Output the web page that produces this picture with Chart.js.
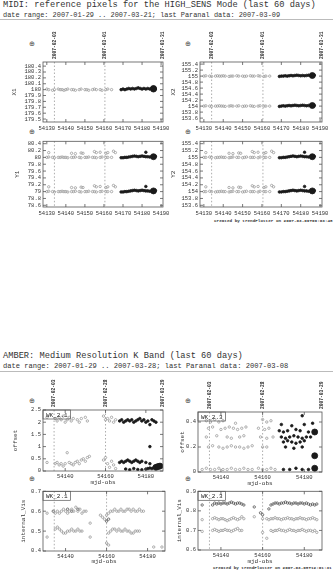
<!DOCTYPE html>
<html>
<head>
<meta charset="utf-8">
<title>MIDI / AMBER trend plots</title>
<script src="https://cdn.jsdelivr.net/npm/chart.js@4.4.1/dist/chart.umd.min.js"></script>
<style>
    body { margin: 0; width: 333px; height: 575px; position: relative; background: #fff; overflow: hidden;
           font-family: "Liberation Mono", "DejaVu Sans Mono", monospace; color: #333; }
    .txt { position: absolute; white-space: nowrap; line-height: 1; }
    .sym { font-family: "DejaVu Sans", sans-serif; font-size: 7px; color: #444; }
    .rule { position: absolute; left: 0; width: 333px; height: 0; border-top: 1px solid #bbb; }
    canvas { position: absolute; }
</style>
</head>
<body>
<div class="txt" style="left:3px;top:1px;font-size:8.7px">MIDI: reference pixels for the HIGH_SENS Mode (last 60 days)</div>
<div class="txt" style="left:3px;top:12px;font-size:6.9px">date range: 2007-01-29 .. 2007-03-21; last Paranal data: 2007-03-09</div>
<div class="rule" style="top:19px"></div>
<div class="txt sym" style="left:29px;top:41px">⊕</div>
<div class="txt sym" style="left:185px;top:41px">⊕</div>
<div class="txt sym" style="left:29px;top:129px">⊕</div>
<div class="txt sym" style="left:185px;top:129px">⊕</div>
<div class="txt" style="left:214px;top:219px;font-size:4.3px;font-weight:bold">created by trendPlotter on 2007-03-09T09:03:48</div>

<div class="txt" style="left:3px;top:352px;font-size:8.7px">AMBER: Medium Resolution K Band (last 60 days)</div>
<div class="txt" style="left:3px;top:363px;font-size:7.1px">date range: 2007-01-29 .. 2007-03-28; last Paranal data: 2007-03-08</div>
<div class="rule" style="top:371px"></div>
<div class="txt sym" style="left:29px;top:398px">⊕</div>
<div class="txt sym" style="left:185px;top:398px">⊕</div>
<div class="txt sym" style="left:29px;top:476px">⊕</div>
<div class="txt sym" style="left:185px;top:476px">⊕</div>
<div class="txt" style="left:213px;top:566px;font-size:4.3px;font-weight:bold">created by trendPlotter on 2007-03-08T12:01:31</div>

<canvas id="midiX1" width="173" height="114" style="left:0;top:20px"></canvas>
<canvas id="midiX2" width="167" height="114" style="left:166px;top:20px"></canvas>
<canvas id="midiY1" width="173" height="82" style="left:0;top:136px"></canvas>
<canvas id="midiY2" width="167" height="82" style="left:166px;top:136px"></canvas>
<canvas id="amberOff21" width="173" height="112" style="left:0;top:376px"></canvas>
<canvas id="amberOff23" width="167" height="112" style="left:166px;top:376px"></canvas>
<canvas id="amberVis21" width="173" height="80" style="left:0;top:486px"></canvas>
<canvas id="amberVis23" width="167" height="80" style="left:166px;top:486px"></canvas>

<script>
// ---- MIDI data ----
const midiTicksX = [54130, 54140, 54150, 54160, 54170, 54180, 54190];
const midiDateMarks = [54134, 54160.5, 54191];
const midiDateText = ['2007-02-03', '2007-03-01', '2007-03-31'];
const x1Ticks = [179.5, 179.6, 179.7, 179.8, 179.9, 180, 180.1, 180.2, 180.3, 180.4];
const x2Ticks = [153.6, 153.8, 154, 154.2, 154.4, 154.6, 154.8, 155, 155.2, 155.4];
const y1Ticks = [78.6, 78.8, 79, 79.2, 79.4, 79.6, 79.8, 80, 80.2, 80.4];
const y2Ticks = [153.6, 153.8, 154, 154.2, 154.4, 154.6, 154.8, 155, 155.2, 155.4];

const midiOldMjd = [54130, 54131, 54133, 54134, 54136, 54137, 54138, 54139, 54140, 54141, 54143, 54144, 54145,
                    54147, 54148, 54150, 54151, 54152, 54154, 54155, 54156, 54158, 54159, 54161, 54162, 54164];
const midiNewMjd = [54169, 54170, 54171, 54172, 54173, 54174, 54175, 54176, 54177, 54178, 54179, 54180, 54181,
                    54182, 54183, 54184, 54185, 54187];
const midiOutMjd = [54131, 54143, 54145, 54148, 54149, 54155, 54156, 54158, 54161, 54162, 54165, 54166];
const midiOutNewMjd = [54182, 54182];
const midiLastMjd = [54186, 54186];

const x1Old = [180.01, 180, 179.99, 180, 180.01, 180, 180, 179.99, 180, 180.01, 180, 180, 179.99,
               180, 180.01, 180, 180, 179.99, 180, 180.01, 180, 180, 179.99, 180, 180.01, 180];
const x1New = [180, 180.01, 180, 180.01, 180.02, 180.01, 180.02, 180.01, 180.02, 180.03, 180.02, 180.01, 180.02,
               180.01, 180.02, 180.01, 180.02, 180.01];
const x1Last = [180.02, 180.01];

const x2HiOld = [155, 155.01, 155, 154.99, 155, 155.01, 155, 155, 155.01, 155, 154.99, 155, 155,
                 155.01, 155, 155, 154.99, 155, 155.01, 155, 155, 155.01, 155, 154.99, 155, 155];
const x2LoOld = [154, 154.01, 154, 153.99, 154, 154, 154.01, 154, 154, 153.99, 154, 154.01, 154,
                 154, 154.01, 153.99, 154, 154, 154.01, 154, 153.99, 154, 154.01, 154, 154, 154];
const x2HiNew = [154.99, 155, 155, 155.01, 155, 155.01, 155.02, 155.01, 155.02, 155.03, 155.02, 155.01, 155.02,
                 155.01, 155.02, 155.03, 155.02, 155.03];
const x2LoNew = [153.99, 154, 154.01, 154, 154.01, 154.02, 154.01, 154.02, 154.03, 154.02, 154.01, 154.02, 154.03,
                 154.02, 154.01, 154.02, 154.03, 154.02];
const x2Last = [155.02, 154.02];

const y1HiOld = [80, 80.01, 80, 79.99, 80, 80, 80.01, 80, 80, 79.99, 80, 80, 80.01,
                 80, 79.99, 80, 80, 80.01, 80, 80, 79.99, 80, 80.01, 80, 80, 80];
const y1LoOld = [79, 79.01, 79, 78.99, 79, 79, 79.01, 79, 79, 78.99, 79, 79, 79.01,
                 79, 78.99, 79, 79, 79.01, 79, 79, 78.99, 79, 79.01, 79, 79, 79];
const y1HiNew = [79.99, 79.99, 80, 80, 80.01, 80.02, 80.03, 80.04, 80.03, 80.02, 80.03, 80.04, 80.03,
                 80.02, 80.02, 80.01, 80.02, 80.03];
const y1LoNew = [78.99, 78.99, 79, 79, 79.01, 79.02, 79.03, 79.04, 79.03, 79.02, 79.03, 79.04, 79.03,
                 79.02, 79.02, 79.01, 79.02, 79.03];
const y1HiOut = [80.14, 80.12, 80.11, 80.13, 80.12, 80.17, 80.14, 80.15, 80.12, 80.14, 80.18, 80.14];
const y1LoOut = [79.14, 79.12, 79.11, 79.13, 79.12, 79.17, 79.14, 79.15, 79.12, 79.14, 79.18, 79.14];
const y1OutNew = [80.15, 79.15];
const y1Last = [80.02, 79.02];

const y2HiOld = [155, 155, 155.01, 155, 154.99, 155, 155, 155.01, 155, 155, 154.99, 155, 155.01,
                 155, 155, 154.99, 155, 155.01, 155, 155, 155, 154.99, 155.01, 155, 155, 155];
const y2LoOld = [154, 154, 154.01, 154, 153.99, 154, 154, 154.01, 154, 154, 153.99, 154, 154.01,
                 154, 154, 153.99, 154, 154.01, 154, 154, 154, 153.99, 154.01, 154, 154, 154];
const y2HiNew = [154.99, 154.99, 155, 155, 155.01, 155.02, 155.03, 155.04, 155.03, 155.02, 155.03, 155.04, 155.03,
                 155.02, 155.02, 155.01, 155.02, 155.03];
const y2LoNew = [153.99, 153.99, 154, 154, 154.01, 154.02, 154.03, 154.04, 154.03, 154.02, 154.03, 154.04, 154.03,
                 154.02, 154.02, 154.01, 154.02, 154.03];
const y2HiOut = [155.14, 155.12, 155.11, 155.13, 155.12, 155.17, 155.14, 155.15, 155.12, 155.14, 155.18, 155.14];
const y2LoOut = [154.14, 154.12, 154.11, 154.13, 154.12, 154.17, 154.14, 154.15, 154.12, 154.14, 154.18, 154.14];
const y2OutNew = [155.15, 154.15];
const y2Last = [155.02, 154.02];

// ---- AMBER data ----
const amberTicksX = [54140, 54160, 54180];
const amberDateMarks = [54134.5, 54160, 54188.5];
const amberDateText = ['2007-02-03', '2007-02-28', '2007-03-29'];
const off21Ticks = [0, 0.5, 1, 1.5, 2, 2.5];
const off23Ticks = [0, 0.2, 0.4];
const vis21Ticks = [0.4, 0.5, 0.6, 0.7];
const vis23Ticks = [0.6, 0.7, 0.8, 0.9];

const off21OldMjd = [54131, 54135, 54136, 54137, 54138, 54139, 54140, 54141, 54142, 54143, 54144, 54146, 54147, 54148,
                     54150, 54151, 54159, 54160, 54161, 54162, 54163, 54164, 54165,
                     54131, 54135, 54136, 54137, 54138, 54139, 54140, 54141, 54142, 54143, 54144, 54145, 54146, 54147,
                     54148, 54149, 54150, 54151, 54152, 54159, 54160, 54161, 54162, 54163, 54164, 54165];
const off21Old = [2.2, 2.15, 2.05, 2.2, 2.1, 2.25, 2.0, 2.1, 2.2, 2.05, 2.15, 2.1, 2.0, 2.15,
                  2.2, 2.05, 2.25, 2.1, 2.15, 2.05, 2.2, 2.0, 2.1,
                  0.35, 0.3, 0.35, 0.25, 0.3, 0.2, 0.3, 0.75, 0.35, 0.3, 0.25, 0.35, 0.4, 0.3,
                  0.45, 0.5, 0.4, 0.55, 0.6, 0.45, 0.55, 0.3, 0.15, 0.4, 0.25, 0.1];
const off21NewMjd = [54167, 54168, 54169, 54170, 54171, 54172, 54173, 54174, 54175, 54176, 54177, 54178, 54179,
                     54180, 54181, 54182, 54183, 54184, 54185,
                     54167, 54168, 54169, 54170, 54171, 54172, 54173, 54174, 54175, 54176, 54177, 54178, 54180, 54182,
                     54170, 54172, 54174, 54176, 54178, 54180, 54181, 54182, 54183, 54184,
                     54182];
const off21New = [2.05, 2.1, 2.0, 2.05, 2.1, 2.05, 2.1, 2.0, 2.05, 2.1, 2.15, 2.05, 2.1,
                  2.0, 2.05, 1.9, 2.1, 2.05, 2.0,
                  0.35, 0.4, 0.35, 0.4, 0.45, 0.4, 0.35, 0.4, 0.45, 0.4, 0.35, 0.4, 0.35, 0.3,
                  0.08, 0.05, 0.1, 0.06, 0.05, 0.08, 0.1, 0.12, 0.1, 0.15,
                  1.0];
const off21BigMjd = [54185, 54186, 54187];
const off21Big = [0.15, 0.18, 0.2];

const off23OldMjd = [54133, 54135, 54137, 54139, 54141, 54147, 54160, 54162, 54164,
                     54134, 54136, 54140, 54142, 54144, 54146, 54148, 54150, 54152, 54158, 54161, 54163,
                     54133, 54138, 54143, 54145, 54149, 54151, 54159, 54162, 54165,
                     54134, 54136, 54139, 54141, 54143, 54145, 54147, 54149, 54151, 54153, 54155, 54160, 54162,
                     54131, 54133, 54135, 54137, 54139, 54141, 54143, 54145, 54147, 54149, 54151, 54153, 54155,
                     54158, 54160, 54162, 54164, 54166];
const off23Old = [0.41, 0.4, 0.42, 0.4, 0.41, 0.39, 0.42, 0.4, 0.41,
                  0.35, 0.36, 0.34, 0.35, 0.36, 0.35, 0.34, 0.35, 0.36, 0.35, 0.34, 0.35,
                  0.28, 0.29, 0.28, 0.27, 0.28, 0.29, 0.28, 0.27, 0.28,
                  0.2, 0.21, 0.2, 0.19, 0.2, 0.21, 0.2, 0.2, 0.19, 0.2, 0.21, 0.2, 0.2,
                  0.02, 0.03, 0.02, 0.02, 0.03, 0.02, 0.02, 0.03, 0.02, 0.02, 0.03, 0.02, 0.02,
                  0.03, 0.02, 0.02, 0.03, 0.02];
const off23NewMjd = [54179,
                     54169, 54174, 54180, 54184,
                     54168, 54170, 54172, 54176, 54178, 54182,
                     54169, 54171, 54173, 54175, 54177, 54179, 54181, 54183,
                     54170, 54172, 54174, 54176, 54178, 54180,
                     54171, 54175, 54179,
                     54170, 54173, 54176, 54179, 54182];
const off23New = [0.45,
                  0.38, 0.37, 0.38, 0.39,
                  0.33, 0.32, 0.33, 0.34, 0.33, 0.32,
                  0.28, 0.27, 0.28, 0.29, 0.28, 0.27, 0.28, 0.28,
                  0.24, 0.25, 0.24, 0.23, 0.24, 0.25,
                  0.2, 0.19, 0.2,
                  0.02, 0.02, 0.03, 0.02, 0.02];
const off23BigMjd = [54185, 54185, 54185];
const off23Big = [0.32, 0.13, 0.03];

const vis21HiMjd = [54135, 54136, 54137, 54138, 54139, 54140, 54141, 54142, 54143, 54144, 54145, 54146, 54147,
                    54148, 54149, 54150,
                    54157, 54158, 54159, 54160, 54161, 54162, 54163, 54164, 54165, 54166, 54167, 54168, 54169,
                    54170, 54171, 54172, 54173, 54174, 54175, 54176, 54177, 54178];
const vis21Hi = [0.59, 0.6, 0.59, 0.6, 0.61, 0.6, 0.59, 0.6, 0.61, 0.6, 0.62, 0.6, 0.61,
                 0.59, 0.6, 0.6,
                 0.58, 0.57, 0.56, 0.58, 0.59, 0.6, 0.6, 0.61, 0.6, 0.6, 0.61, 0.6, 0.6,
                 0.61, 0.61, 0.6, 0.61, 0.6, 0.6, 0.61, 0.6, 0.6];
const vis21LoMjd = [54135, 54136, 54137, 54138, 54139, 54140, 54141, 54142, 54143, 54144, 54145, 54146, 54147, 54148,
                    54161, 54162, 54163, 54164, 54165, 54166, 54167, 54168, 54169, 54170, 54171, 54172, 54173,
                    54174, 54175, 54176];
const vis21Lo = [0.51, 0.52, 0.51, 0.5, 0.49, 0.49, 0.5, 0.5, 0.51, 0.5, 0.5, 0.51, 0.5, 0.5,
                 0.49, 0.5, 0.51, 0.51, 0.5, 0.51, 0.5, 0.5, 0.51, 0.5, 0.5, 0.49, 0.49,
                 0.5, 0.5, 0.5];
const vis21OutMjd = [54131, 54131, 54152, 54152, 54160, 54161, 54183, 54187];
const vis21Out = [0.59, 0.47, 0.54, 0.47, 0.44, 0.43, 0.42, 0.42];
const vis21DarkMjd = [54134, 54141, 54143, 54146, 54160, 54161];
const vis21Dark = [0.6, 0.61, 0.6, 0.61, 0.55, 0.56];

const vis23HiMjd = [54131,
                    54136, 54137, 54138, 54139, 54140, 54141, 54142, 54143, 54144, 54145, 54146, 54147, 54148,
                    54149, 54150, 54151,
                    54156, 54159, 54160, 54163,
                    54164, 54165, 54166, 54167, 54168, 54169, 54170, 54171, 54172, 54173, 54174, 54175, 54176,
                    54177, 54178, 54179, 54180, 54181, 54182, 54183, 54184, 54185, 54186];
const vis23Hi = [0.83,
                 0.83, 0.84, 0.835, 0.84, 0.835, 0.84, 0.84, 0.835, 0.84, 0.845, 0.84, 0.835, 0.84,
                 0.84, 0.835, 0.83,
                 0.82, 0.79, 0.78, 0.81,
                 0.83, 0.835, 0.84, 0.84, 0.835, 0.84, 0.84, 0.845, 0.84, 0.84, 0.835, 0.84, 0.84,
                 0.835, 0.84, 0.84, 0.835, 0.84, 0.835, 0.83, 0.835, 0.83, 0.835];
const vis23MidMjd = [54131,
                     54136, 54137, 54138, 54139, 54140, 54141, 54142, 54143, 54144, 54145, 54146, 54147, 54148,
                     54149, 54150, 54151,
                     54156, 54160,
                     54162, 54163, 54164, 54165, 54166, 54167, 54168, 54169, 54170, 54171, 54172, 54173, 54174,
                     54175, 54176, 54177, 54178, 54179, 54180, 54181, 54182, 54183, 54184, 54185, 54186];
const vis23Mid = [0.755,
                  0.76, 0.765, 0.76, 0.755, 0.76, 0.76, 0.755, 0.75, 0.755, 0.76, 0.765, 0.76, 0.755,
                  0.76, 0.77, 0.76,
                  0.77, 0.76,
                  0.76, 0.755, 0.76, 0.76, 0.765, 0.76, 0.76, 0.755, 0.76, 0.76, 0.765, 0.76, 0.76,
                  0.755, 0.76, 0.76, 0.765, 0.76, 0.76, 0.755, 0.76, 0.76, 0.765, 0.76, 0.755];
const vis23LoMjd = [54131,
                    54136, 54137, 54138, 54139, 54140, 54141, 54142, 54143, 54144, 54145, 54146, 54147, 54148,
                    54149, 54150,
                    54160, 54162,
                    54164, 54165, 54166, 54167, 54168, 54169, 54170, 54171, 54172, 54173, 54174, 54175, 54176,
                    54177, 54178, 54179, 54180, 54181, 54182, 54183, 54184, 54185, 54186];
const vis23Lo = [0.695,
                 0.7, 0.705, 0.7, 0.695, 0.7, 0.7, 0.705, 0.7, 0.7, 0.695, 0.7, 0.705, 0.71,
                 0.7, 0.7,
                 0.69, 0.66,
                 0.7, 0.695, 0.7, 0.7, 0.705, 0.7, 0.7, 0.695, 0.7, 0.705, 0.7, 0.7, 0.695,
                 0.7, 0.7, 0.705, 0.7, 0.695, 0.7, 0.7, 0.695, 0.7, 0.69];

// ---- styles ----
const tickFont = { family: '"Liberation Mono", "DejaVu Sans Mono", monospace', size: 5.5 };
const titleFont = { family: '"Liberation Mono", "DejaVu Sans Mono", monospace', size: 6 };
const OLD = { color: '#9a9a9a', fill: 'rgba(0,0,0,0)', r: 1.2 };
const DARK = { color: '#555', fill: 'rgba(0,0,0,0)', r: 1.2 };
const NEW = { color: '#1a1a1a', fill: '#1a1a1a', r: 1.3 };
const BIG = { color: '#1a1a1a', fill: '#1a1a1a', r: 3 };

// Box, inward ticks, dashed date markers and rotated date labels
const framePlugin = {
    id: 'frame',
    beforeDatasetsDraw(chart, args, opts) {
        const { ctx, chartArea: a, scales: { x } } = chart;
        ctx.save();
        ctx.strokeStyle = '#8a8a8a';
        ctx.lineWidth = 0.7;
        ctx.setLineDash([1.5, 2]);
        (opts.marks || []).forEach(m => {
            const px = x.getPixelForValue(m);
            ctx.beginPath();
            ctx.moveTo(px, a.top);
            ctx.lineTo(px, a.bottom);
            ctx.stroke();
        });
        ctx.restore();
    },
    afterDraw(chart, args, opts) {
        const { ctx, chartArea: a, scales: { x, y } } = chart;
        ctx.save();
        ctx.strokeStyle = '#555';
        ctx.lineWidth = 0.8;
        ctx.strokeRect(a.left, a.top, a.right - a.left, a.bottom - a.top);
        ctx.beginPath();
        x.ticks.forEach(t => {
            const px = x.getPixelForValue(t.value);
            ctx.moveTo(px, a.bottom); ctx.lineTo(px, a.bottom - 3);
            ctx.moveTo(px, a.top); ctx.lineTo(px, a.top + 3);
        });
        y.ticks.forEach(t => {
            const py = y.getPixelForValue(t.value);
            ctx.moveTo(a.left, py); ctx.lineTo(a.left + 3, py);
            ctx.moveTo(a.right, py); ctx.lineTo(a.right - 3, py);
        });
        ctx.stroke();

        if (opts.dates) {
            ctx.fillStyle = '#333';
            ctx.font = 'bold 4.6px "Liberation Mono", monospace';
            ctx.textBaseline = 'middle';
            ctx.textAlign = 'left';
            opts.dates.forEach((d, i) => {
                const px = x.getPixelForValue(d);
                ctx.save();
                ctx.translate(px, a.top - 3);
                ctx.rotate(-Math.PI / 2);
                ctx.fillText(opts.dateText[i], 0, 0);
                ctx.restore();
            });
        }

        if (opts.tag) {
            ctx.font = '6px "Liberation Mono", monospace';
            ctx.fillStyle = '#222';
            ctx.textBaseline = 'top';
            const w = ctx.measureText(opts.tag).width;
            ctx.fillText(opts.tag, a.left + 3, a.top + 2);
            ctx.lineWidth = 0.7;
            ctx.strokeRect(a.left, a.top, w + 6, 9);
        }
        ctx.restore();
    }
};

function makePanel(id, p) {
    const canvas = document.getElementById(id);
    return new Chart(canvas, {
        type: 'scatter',
        data: {
            datasets: p.sets.map(s => ({
                data: s.x.map((v, i) => ({ x: v, y: s.y[i] })),
                pointRadius: s.style.r,
                pointBorderWidth: 0.8,
                pointBorderColor: s.style.color,
                pointBackgroundColor: s.style.fill
            }))
        },
        options: {
            responsive: false,
            animation: false,
            events: [],
            layout: { padding: { top: p.padTop, right: p.padRight, left: 0, bottom: 0 } },
            plugins: {
                legend: { display: false },
                tooltip: { enabled: false },
                frame: { marks: p.marks, dates: p.dates, dateText: p.dateText, tag: p.tag }
            },
            scales: {
                x: {
                    type: 'linear',
                    min: p.xMin,
                    max: p.xMax,
                    afterFit: s => { s.height = p.xh; },
                    afterBuildTicks: s => { s.ticks = p.xTicks.map(v => ({ value: v })); },
                    grid: { display: false, drawTicks: false },
                    border: { display: false },
                    ticks: { font: tickFont, color: '#333', padding: p.xPad, maxRotation: 0, autoSkip: false,
                             callback: v => String(v) },
                    title: { display: !!p.xTitle, text: p.xTitle || '', font: titleFont, color: '#333',
                             padding: { top: 0, bottom: p.xTitlePad || 0 } }
                },
                y: {
                    type: 'linear',
                    min: p.yMin,
                    max: p.yMax,
                    afterFit: s => { s.width = p.yw; },
                    afterBuildTicks: s => { s.ticks = p.yTicks.map(v => ({ value: v })); },
                    grid: { display: false, drawTicks: false },
                    border: { display: false },
                    ticks: { font: tickFont, color: '#333', padding: 2, autoSkip: false, callback: v => String(v) },
                    title: { display: true, text: p.yTitle, font: titleFont, color: '#333',
                             padding: { top: p.yTitlePad, bottom: 0 } }
                }
            }
        },
        plugins: [framePlugin]
    });
}

// ---- MIDI panels ----
const midiBase = { xMin: 54128, xMax: 54191, xTicks: midiTicksX, marks: [54134, 54160.5], xPad: 3 };

makePanel('midiX1', Object.assign({}, midiBase, {
    padTop: 42, padRight: 10, xh: 12, yw: 43, yTitle: 'X1', yTitlePad: 11,
    yMin: 179.45, yMax: 180.47, yTicks: x1Ticks, dates: midiDateMarks, dateText: midiDateText,
    sets: [
        { x: midiOldMjd, y: x1Old, style: OLD },
        { x: midiNewMjd, y: x1New, style: NEW },
        { x: midiLastMjd, y: x1Last, style: BIG }
    ]
}));

makePanel('midiX2', Object.assign({}, midiBase, {
    padTop: 42, padRight: 11, xh: 12, yw: 34, yTitle: 'X2', yTitlePad: 4,
    yMin: 153.47, yMax: 155.47, yTicks: x2Ticks, dates: midiDateMarks, dateText: midiDateText,
    sets: [
        { x: midiOldMjd, y: x2HiOld, style: OLD },
        { x: midiOldMjd, y: x2LoOld, style: OLD },
        { x: midiNewMjd, y: x2HiNew, style: NEW },
        { x: midiNewMjd, y: x2LoNew, style: NEW },
        { x: midiLastMjd, y: x2Last, style: BIG }
    ]
}));

makePanel('midiY1', Object.assign({}, midiBase, {
    padTop: 5, padRight: 10, xh: 11, yw: 43, yTitle: 'Y1', yTitlePad: 14,
    yMin: 78.55, yMax: 80.47, yTicks: y1Ticks,
    sets: [
        { x: midiOldMjd, y: y1HiOld, style: OLD },
        { x: midiOldMjd, y: y1LoOld, style: OLD },
        { x: midiOutMjd, y: y1HiOut, style: OLD },
        { x: midiOutMjd, y: y1LoOut, style: OLD },
        { x: midiNewMjd, y: y1HiNew, style: NEW },
        { x: midiNewMjd, y: y1LoNew, style: NEW },
        { x: midiOutNewMjd, y: y1OutNew, style: NEW },
        { x: midiLastMjd, y: y1Last, style: BIG }
    ]
}));

makePanel('midiY2', Object.assign({}, midiBase, {
    padTop: 5, padRight: 11, xh: 11, yw: 34, yTitle: 'Y2', yTitlePad: 4,
    yMin: 153.55, yMax: 155.47, yTicks: y2Ticks,
    sets: [
        { x: midiOldMjd, y: y2HiOld, style: OLD },
        { x: midiOldMjd, y: y2LoOld, style: OLD },
        { x: midiOutMjd, y: y2HiOut, style: OLD },
        { x: midiOutMjd, y: y2LoOut, style: OLD },
        { x: midiNewMjd, y: y2HiNew, style: NEW },
        { x: midiNewMjd, y: y2LoNew, style: NEW },
        { x: midiOutNewMjd, y: y2OutNew, style: NEW },
        { x: midiLastMjd, y: y2Last, style: BIG }
    ]
}));

// ---- AMBER panels ----
const amberBase = { xMin: 54129, xMax: 54188.5, xTicks: amberTicksX, marks: [54134.5, 54160], xPad: 2,
                    xTitle: 'mjd-obs' };

makePanel('amberOff21', Object.assign({}, amberBase, {
    padTop: 34, padRight: 10, xh: 17, xTitlePad: 1.5, yw: 43, yTitle: 'offset', yTitlePad: 12,
    yMin: 0, yMax: 2.5, yTicks: off21Ticks, dates: amberDateMarks, dateText: amberDateText, tag: 'WK_2.1',
    sets: [
        { x: off21OldMjd, y: off21Old, style: OLD },
        { x: off21NewMjd, y: off21New, style: NEW },
        { x: off21BigMjd, y: off21Big, style: BIG }
    ]
}));

makePanel('amberOff23', Object.assign({}, amberBase, {
    padTop: 36, padRight: 11, xh: 16, xTitlePad: 1, yw: 32, yTitle: 'offset', yTitlePad: 13,
    yMin: 0, yMax: 0.48, yTicks: off23Ticks, dates: amberDateMarks, dateText: amberDateText, tag: 'WK_2.3',
    sets: [
        { x: off23OldMjd, y: off23Old, style: OLD },
        { x: off23NewMjd, y: off23New, style: NEW },
        { x: off23BigMjd, y: off23Big, style: BIG }
    ]
}));

makePanel('amberVis21', Object.assign({}, amberBase, {
    padTop: 4, padRight: 8, xh: 15, xTitlePad: 0.5, yw: 43, yTitle: 'internal_Vis', yTitlePad: 20,
    yMin: 0.4, yMax: 0.7, yTicks: vis21Ticks, tag: 'WK_2.1',
    sets: [
        { x: vis21HiMjd, y: vis21Hi, style: OLD },
        { x: vis21LoMjd, y: vis21Lo, style: OLD },
        { x: vis21OutMjd, y: vis21Out, style: OLD },
        { x: vis21DarkMjd, y: vis21Dark, style: DARK }
    ]
}));

makePanel('amberVis23', Object.assign({}, amberBase, {
    padTop: 4, padRight: 11, xh: 16, xTitlePad: 1, yw: 32, yTitle: 'internal_Vis', yTitlePad: 10,
    yMin: 0.6, yMax: 0.9, yTicks: vis23Ticks, tag: 'WK_2.3',
    sets: [
        { x: vis23HiMjd, y: vis23Hi, style: DARK },
        { x: vis23MidMjd, y: vis23Mid, style: OLD },
        { x: vis23LoMjd, y: vis23Lo, style: OLD }
    ]
}));
</script>
</body>
</html>
